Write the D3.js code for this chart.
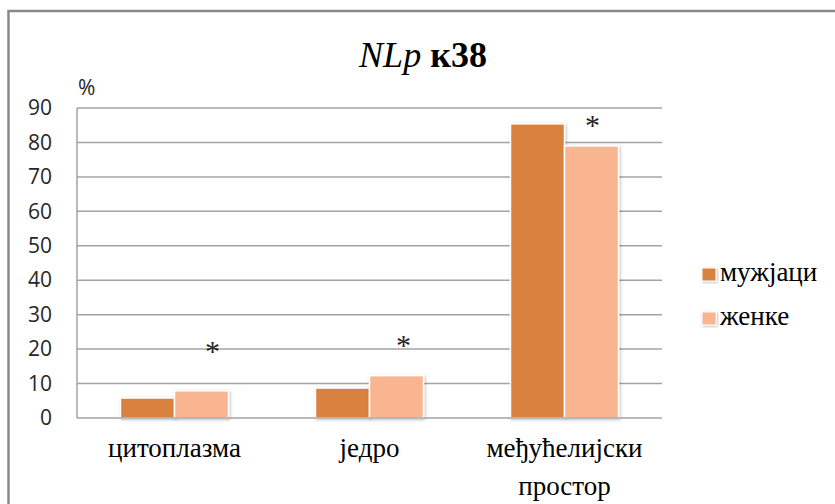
<!DOCTYPE html>
<html>
<head>
<meta charset="utf-8">
<script src="https://cdn.jsdelivr.net/npm/d3@7"></script>
<style>
  html, body { margin: 0; padding: 0; background: #fff; }
  svg { display: block; }
</style>
</head>
<body>
<svg id="chart" width="835" height="504"></svg>
<script>
// Categories (compartments) and values per sex, in percent
const categories = [["цитоплазма"], ["једро"], ["међућелијски", "простор"]];
const seriesNames = ["мужјаци", "женке"];
const maleValues = [5.8, 8.7, 85.4];
const femaleValues = [7.9, 12.3, 79.0];
// Significance marks over the female bars and the level (in %) where each sits
const significance = ["*", "*", "*"];
const markLevel = [20.8, 22.6, 86.5];
const yTicks = [0, 10, 20, 30, 40, 50, 60, 70, 80, 90];

const colors = ["#d9823f", "#f8b590"];
const serif = "'Liberation Serif', 'Times New Roman', serif";
const sans = "'Open Sans', 'Liberation Sans', sans-serif";

const svg = d3.select("#chart");
const margin = { left: 77, right: 173, top: 108, bottom: 86 };
const W = 835, H = 504;
const plotW = W - margin.left - margin.right;
const plotH = H - margin.top - margin.bottom;

const defs = svg.append("defs");
const shadow = defs.append("filter").attr("id", "barShadow")
  .attr("x", "-20%").attr("y", "-20%").attr("width", "140%").attr("height", "140%");
shadow.append("feDropShadow").attr("dx", 1).attr("dy", 1).attr("stdDeviation", 1.6)
  .attr("flood-color", "#000").attr("flood-opacity", 0.28);

// outer chart frame
svg.append("rect").attr("x", 8.5).attr("y", 11).attr("width", 900).attr("height", 600)
  .attr("fill", "none").attr("stroke", "#8a8a8a").attr("stroke-width", 2.5);

// title
const title = svg.append("text").attr("x", 423).attr("y", 67)
  .attr("text-anchor", "middle").attr("font-family", serif).attr("font-size", 36).attr("fill", "#000");
title.append("tspan").attr("font-style", "italic").text("NLp ");
title.append("tspan").attr("font-weight", "bold").text("к38");

const g = svg.append("g").attr("transform", `translate(${margin.left},${margin.top})`);

const y = d3.scaleLinear().domain([0, 90]).range([plotH, 0]);
const x0 = d3.scaleBand().domain(d3.range(categories.length)).range([0, plotW])
  .paddingInner(0.446).paddingOuter(0.223);
const x1 = d3.scaleBand().domain(d3.range(seriesNames.length)).range([0, x0.bandwidth()]);

// gridlines
g.append("g").selectAll("line").data(yTicks.filter(t => t > 0)).join("line")
  .attr("x1", 0).attr("x2", plotW)
  .attr("y1", d => y(d)).attr("y2", d => y(d))
  .attr("stroke", "#a3a3a3").attr("stroke-width", 1.5);

// y axis
const yAxis = g.append("g").call(d3.axisLeft(y).tickValues(yTicks).tickSize(0).tickPadding(25));
yAxis.select(".domain").remove();
yAxis.selectAll("text").attr("font-family", sans).attr("font-size", 21).attr("fill", "#262626");

g.append("line").attr("x1", 0).attr("x2", 0).attr("y1", 0).attr("y2", plotH)
  .attr("stroke", "#a3a3a3").attr("stroke-width", 1.5);

g.append("text").attr("x", 1).attr("y", -13).attr("font-family", sans)
  .attr("font-size", 21).attr("fill", "#262626").text("%");

// bars
const allValues = [maleValues, femaleValues];
const groups = g.append("g").selectAll("g").data(categories).join("g")
  .attr("transform", (d, i) => `translate(${x0(i)},0)`);
groups.selectAll("rect").data((d, i) => allValues.map((vals, s) => ({ s, v: vals[i] })))
  .join("rect")
  .attr("x", d => x1(d.s)).attr("width", x1.bandwidth())
  .attr("y", d => y(d.v)).attr("height", d => y(0) - y(d.v))
  .attr("fill", d => colors[d.s]).attr("stroke", "#fff").attr("stroke-width", 1.5)
  .attr("filter", "url(#barShadow)");

// baseline
g.append("line").attr("x1", 0).attr("x2", plotW).attr("y1", plotH).attr("y2", plotH)
  .attr("stroke", "#a3a3a3").attr("stroke-width", 1.5);

// significance marks
g.append("g").selectAll("text").data(significance).join("text")
  .attr("x", (d, i) => x0(i) + x1(1) + x1.bandwidth() / 2 + (i === 0 ? 11 : i === 1 ? 7 : 1))
  .attr("y", (d, i) => y(markLevel[i]) + 15)
  .attr("text-anchor", "middle").attr("font-family", serif).attr("font-size", 30).attr("fill", "#222")
  .text(d => d);

// category labels
const cat = g.append("g").selectAll("text").data(categories).join("text")
  .attr("x", (d, i) => x0(i) + x0.bandwidth() / 2)
  .attr("y", plotH + 39)
  .attr("text-anchor", "middle").attr("font-family", serif).attr("font-size", 27).attr("fill", "#000");
cat.selectAll("tspan").data(d => d).join("tspan")
  .attr("x", function () { return d3.select(this.parentNode).attr("x"); })
  .attr("dy", (d, j) => j === 0 ? 0 : 38)
  .text(d => d);

// legend
const legend = svg.append("g").attr("transform", "translate(702,0)");
const items = legend.selectAll("g").data(seriesNames).join("g")
  .attr("transform", (d, i) => `translate(0,${268 + i * 44})`);
items.append("rect").attr("width", 14).attr("height", 13)
  .attr("fill", (d, i) => colors[i]).attr("stroke", "#fff").attr("stroke-width", 1)
  .attr("filter", "url(#barShadow)");
items.append("text").attr("x", 18).attr("y", 13)
  .attr("font-family", serif).attr("font-size", 27).attr("fill", "#000").text(d => d);
</script>
</body>
</html>
